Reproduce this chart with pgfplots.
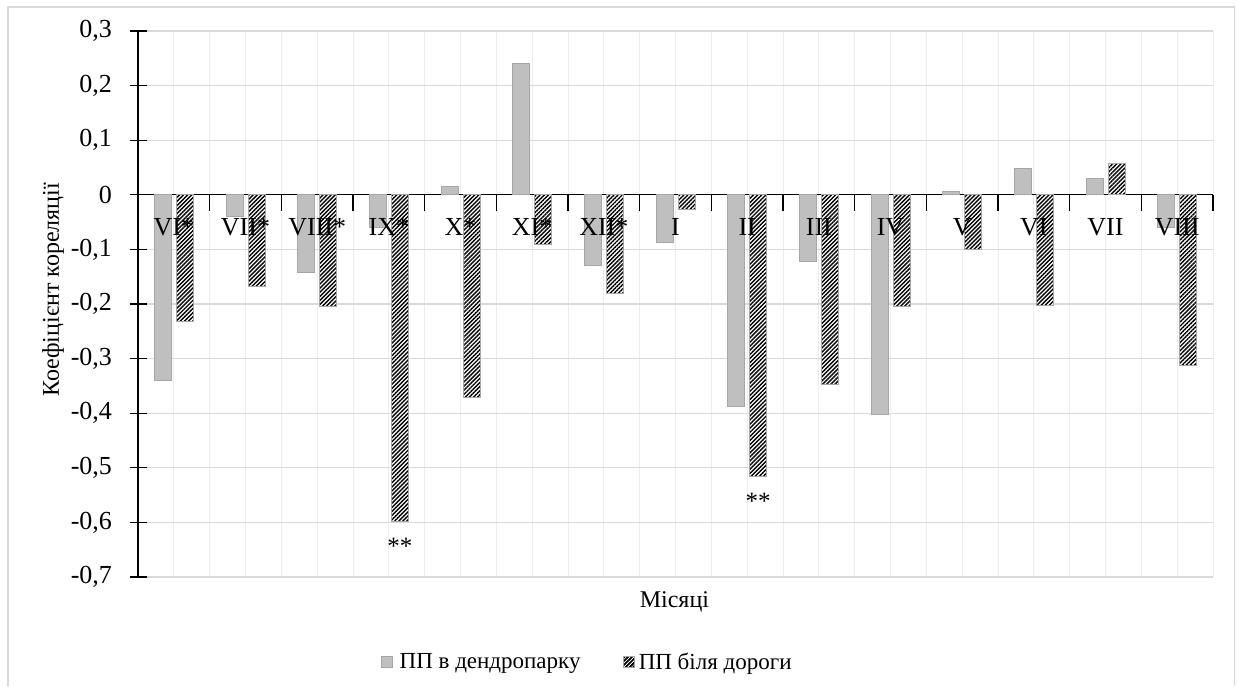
\documentclass[border=0pt]{standalone}
\usepackage{pgfplots}
\pgfplotsset{compat=1.18}
\usepackage{fontspec}
\setmainfont{Liberation Serif}
\usetikzlibrary{patterns.meta}
\definecolor{barg}{RGB}{191,191,191}
\definecolor{bare}{RGB}{166,166,166}
\begin{document}
\begin{tikzpicture}
\draw[color=gray!30, line width=1.2pt] (8pt,-686pt) -- (8pt,-7pt) -- (1234.5pt,-7pt) -- (1234.5pt,-686pt);
\begin{axis}[
  clip=false,
  scale only axis, width=1075pt, height=546pt,
  at={(138pt,-577pt)}, anchor=south west,
  xmin=-0.5, xmax=14.5, ymin=-0.7, ymax=0.3,
  axis x line=middle, axis y line=left,
  axis line style={-, black, line width=1.2pt},
  hide obscured x ticks=false, hide obscured y ticks=false,
  xtick={0,...,14},
  xticklabels={},
  minor xtick={-0.5,0.5,...,14.5},
  xmajorgrids, xminorgrids, ymajorgrids,
  x grid style={color=gray!14, line width=1pt},
  y grid style={color=gray!30, line width=1.2pt},
  major x tick style={draw=none},
  minor x tick style={black, line width=1.2pt},
  ytick style={black, line width=1.2pt},
  tick align=center,
  major tick length=17pt, minor tick length=16pt,
  ytick={-0.7,-0.6,-0.5,-0.4,-0.3,-0.2,-0.1,0,0.1,0.2,0.3},
  /pgf/number format/fixed, /pgf/number format/precision=1,
  /pgf/number format/use comma, /pgf/number format/assume math mode=true,
  yticklabel style={font=\fontsize{26}{31}\selectfont, xshift=-14pt},
  ybar=5pt, bar width=17pt,
  legend columns=2,
  legend style={at={(axis description cs:0.418,-0.1557)}, anchor=center, draw=none, fill=none,
    font=\fontsize{23}{28}\selectfont,
    /tikz/every even column/.append style={column sep=40pt},
    /tikz/every odd column/.append style={column sep=0pt}},
]
\addplot[fill=barg, draw=bare, line width=0.8pt,
  legend image code/.code={\draw[fill=barg, draw=bare, line width=0.6pt] (0pt,-5.5pt) rectangle (11pt,5.5pt);}]
  coordinates {(0,-0.34) (1,-0.04) (2,-0.143) (3,-0.06) (4,0.015) (5,0.24) (6,-0.13) (7,-0.088) (8,-0.388) (9,-0.122) (10,-0.403) (11,0.007) (12,0.049) (13,0.03) (14,-0.06)};
\addlegendentry{\hspace{5pt}ПП в дендропарку}
\addplot[fill=white, draw=bare, line width=0.8pt,
  postaction={pattern={Lines[angle=45,distance=2.9pt,line width=1.4pt]}, pattern color=black},
  legend image code/.code={\draw[fill=white, draw=bare, line width=0.6pt, postaction={pattern={Lines[angle=45,distance=2.6pt,line width=1.2pt]}, pattern color=black}] (0pt,-5.5pt) rectangle (11pt,5.5pt);}]
  coordinates {(0,-0.232) (1,-0.168) (2,-0.205) (3,-0.598) (4,-0.371) (5,-0.09) (6,-0.181) (7,-0.026) (8,-0.515) (9,-0.348) (10,-0.205) (11,-0.1) (12,-0.203) (13,0.058) (14,-0.313)};
\addlegendentry{\hspace{2pt}ПП біля дороги}
\node[font=\fontsize{26}{31}\selectfont, anchor=base, yshift=-41pt] at (axis cs:0,0) {VI*};
\node[font=\fontsize{26}{31}\selectfont, anchor=base, yshift=-41pt] at (axis cs:1,0) {VII*};
\node[font=\fontsize{26}{31}\selectfont, anchor=base, yshift=-41pt] at (axis cs:2,0) {VIII*};
\node[font=\fontsize{26}{31}\selectfont, anchor=base, yshift=-41pt] at (axis cs:3,0) {IX*};
\node[font=\fontsize{26}{31}\selectfont, anchor=base, yshift=-41pt] at (axis cs:4,0) {X*};
\node[font=\fontsize{26}{31}\selectfont, anchor=base, yshift=-41pt] at (axis cs:5,0) {XI*};
\node[font=\fontsize{26}{31}\selectfont, anchor=base, yshift=-41pt] at (axis cs:6,0) {XII*};
\node[font=\fontsize{26}{31}\selectfont, anchor=base, yshift=-41pt] at (axis cs:7,0) {I};
\node[font=\fontsize{26}{31}\selectfont, anchor=base, yshift=-41pt] at (axis cs:8,0) {II};
\node[font=\fontsize{26}{31}\selectfont, anchor=base, yshift=-41pt] at (axis cs:9,0) {III};
\node[font=\fontsize{26}{31}\selectfont, anchor=base, yshift=-41pt] at (axis cs:10,0) {IV};
\node[font=\fontsize{26}{31}\selectfont, anchor=base, yshift=-41pt] at (axis cs:11,0) {V};
\node[font=\fontsize{26}{31}\selectfont, anchor=base, yshift=-41pt] at (axis cs:12,0) {VI};
\node[font=\fontsize{26}{31}\selectfont, anchor=base, yshift=-41pt] at (axis cs:13,0) {VII};
\node[font=\fontsize{26}{31}\selectfont, anchor=base, yshift=-41pt] at (axis cs:14,0) {VIII};
\node[font=\fontsize{25}{30}\selectfont, xshift=11pt, yshift=-25pt] at (axis cs:3,-0.598) {**};
\node[font=\fontsize{25}{30}\selectfont, xshift=11pt, yshift=-25pt] at (axis cs:8,-0.515) {**};
\node[font=\fontsize{24}{29}\selectfont, anchor=base] at (axis description cs:0.499,-0.055) {Місяці};
\node[font=\fontsize{24}{29}\selectfont, rotate=90] at (axis description cs:-0.079,0.526) {Коефіцієнт кореляції};
\end{axis}
\pgfresetboundingbox
\path[use as bounding box] (0pt,0pt) rectangle (1238pt,-686pt);
\end{tikzpicture}
\end{document}
